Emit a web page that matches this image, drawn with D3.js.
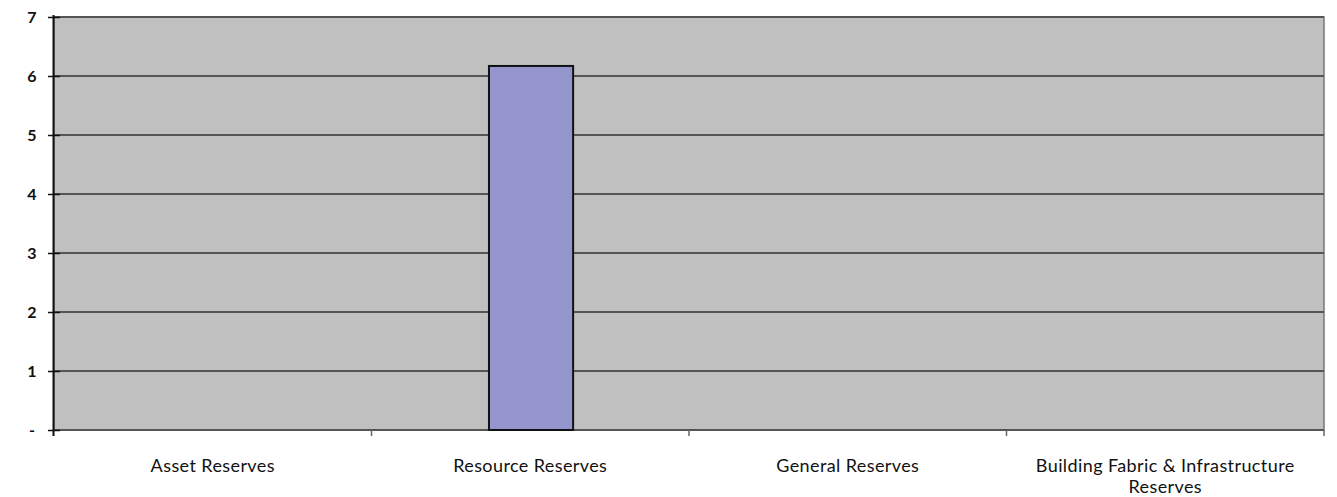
<!DOCTYPE html>
<html>
<head>
<meta charset="utf-8">
<script src="https://cdn.jsdelivr.net/npm/d3@7"></script>
<style>
  body { margin: 0; background: #fff; }
  svg text { font-family: Lato, "Open Sans", sans-serif; fill: #111; }
</style>
</head>
<body>
<svg id="chart" width="1337" height="497"></svg>
<script>
//data
var categories = ['Asset Reserves', 'Resource Reserves', 'General Reserves', 'Building Fabric & Infrastructure Reserves'];
var values = [0, 6.17, 0, 0];
var yTicks = [0, 1, 2, 3, 4, 5, 6, 7];

var svg = d3.select('#chart');
var margin = {top: 17, right: 13, bottom: 67, left: 54};
var width = 1337 - margin.left - margin.right;
var height = 497 - margin.top - margin.bottom;

var g = svg.append('g').attr('transform', `translate(${margin.left},${margin.top})`);

var x = d3.scaleBand().domain(categories).range([0, width]).paddingInner(0).paddingOuter(0);
var y = d3.scaleLinear().domain([0, 7]).range([height, 0]);

//plot background
g.append('rect')
  .attr('width', width)
  .attr('height', height)
  .style('fill', '#c0c0c0')
  .style('stroke', '#777')
  .style('stroke-width', 1.5);

//gridlines
g.selectAll('.grid')
  .data(yTicks)
  .join('line')
  .attr('x1', 0)
  .attr('x2', width)
  .attr('y1', d => y(d))
  .attr('y2', d => y(d))
  .style('stroke', '#555')
  .style('stroke-width', 2);

//bars
g.selectAll('.bar')
  .data(values)
  .join('rect')
  .attr('x', (d, i) => x(categories[i]) + x.bandwidth() * 0.37)
  .attr('width', x.bandwidth() * 0.265)
  .attr('y', d => y(d))
  .attr('height', d => y(0) - y(d))
  .style('fill', '#9595cd')
  .style('stroke', '#111')
  .style('stroke-width', d => d > 0 ? 2 : 0);

//y axis
var yAxis = g.append('g')
  .call(d3.axisLeft(y).tickValues(yTicks).tickSize(6).tickFormat(d => d === 0 ? '-' : d));
yAxis.select('.domain').attr('d', `M-0.5,${y(7) - 2}V${height + 6}`).style('stroke', '#111').style('stroke-width', 2);
yAxis.selectAll('.tick line').attr('x1', -6).attr('x2', 6).style('stroke', '#111').style('stroke-width', 1.5);
yAxis.selectAll('.tick text').attr('x', -22).style('font-size', '16px').style('font-weight', 'bold').style('text-anchor', 'middle');

//x axis ticks between categories
g.selectAll('.xtick')
  .data(d3.range(1, categories.length + 1))
  .join('line')
  .attr('x1', d => d * x.bandwidth())
  .attr('x2', d => d * x.bandwidth())
  .attr('y1', height)
  .attr('y2', height + 6)
  .style('stroke', '#666')
  .style('stroke-width', 1.5);

//category labels, wrapped
var labelLines = [['Asset Reserves'], ['Resource Reserves'], ['General Reserves'], ['Building Fabric & Infrastructure', 'Reserves']];
g.selectAll('.xlabel')
  .data(categories)
  .join('text')
  .attr('x', d => x(d) + x.bandwidth() / 2)
  .attr('y', height + 42)
  .style('text-anchor', 'middle')
  .style('font-size', '18px')
  .style('letter-spacing', '0.4px')
  .each(function(d, i) {
    var t = d3.select(this);
    labelLines[i].forEach((ln, j) => {
      t.append('tspan')
        .attr('x', x(d) + x.bandwidth() / 2)
        .attr('dy', j === 0 ? 0 : 21)
        .text(ln);
    });
  });
</script>
</body>
</html>
